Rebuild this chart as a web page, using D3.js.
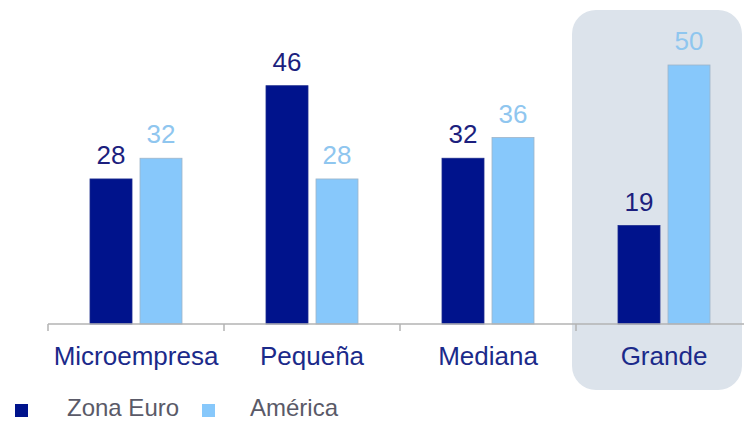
<!DOCTYPE html>
<html>
<head>
<meta charset="utf-8">
<script src="https://cdn.jsdelivr.net/npm/d3@7"></script>
<style>
  html, body { margin: 0; padding: 0; background: #fff; }
  svg { display: block; font-family: "Liberation Sans", Arial, sans-serif; }
</style>
</head>
<body>
<svg id="chart"></svg>
<script>
// Chart data
const categories = ["Microempresa", "Pequeña", "Mediana", "Grande"];
const seriesNames = ["Zona Euro", "América"];
const zonaEuro = [28, 46, 32, 19];
const america = [32, 28, 36, 50];
const highlighted = "Grande";

const width = 744;
const height = 422;
const colors = { "Zona Euro": "#00138c", "América": "#87c8fb" };
const labelColors = { "Zona Euro": "#1c1f7e", "América": "#8fc6ef" };

const svg = d3.select("#chart").attr("width", width).attr("height", height);

// Scales
const x0 = d3.scaleBand().domain(categories).range([48, 752]);
const x1 = d3
  .scaleBand()
  .domain(seriesNames)
  .range([0, x0.bandwidth()])
  .paddingInner(0.16)
  .paddingOuter(0.84);
const y = d3.scaleLinear().domain([0, 50]).range([324, 65]);

const rows = categories.map((c, i) => ({
  category: c,
  values: [
    { key: "Zona Euro", value: zonaEuro[i] },
    { key: "América", value: america[i] }
  ]
}));

// Highlight box behind the last group
svg
  .append("rect")
  .attr("x", x0(highlighted) - 4)
  .attr("y", 10)
  .attr("width", x0.bandwidth() - 6)
  .attr("height", 380)
  .attr("rx", 24)
  .attr("fill", "#dce3eb");

// Bars
const group = svg
  .append("g")
  .selectAll("g")
  .data(rows)
  .join("g")
  .attr("transform", (d) => `translate(${x0(d.category)},0)`);

group
  .selectAll("rect")
  .data((d) => d.values)
  .join("rect")
  .attr("x", (d) => x1(d.key))
  .attr("y", (d) => y(d.value))
  .attr("width", x1.bandwidth())
  .attr("height", (d) => y(0) - y(d.value))
  .attr("fill", (d) => colors[d.key])
  .attr("stroke", (d) => (d.key === "América" ? "#9fb4c8" : "#1a2a8c"))
  .attr("stroke-width", 0.8);

// Value labels
group
  .selectAll("text")
  .data((d) => d.values)
  .join("text")
  .attr("x", (d) => x1(d.key) + x1.bandwidth() / 2)
  .attr("y", (d) => y(d.value) - 15)
  .attr("text-anchor", "middle")
  .attr("font-size", 26)
  .attr("fill", (d) => labelColors[d.key])
  .text((d) => d.value);

// Axis line with ticks at group boundaries
svg
  .append("line")
  .attr("x1", 48)
  .attr("x2", width)
  .attr("y1", y(0))
  .attr("y2", y(0))
  .attr("stroke", "#b3b3b3")
  .attr("stroke-width", 1.5);

svg
  .append("g")
  .selectAll("line")
  .data(categories)
  .join("line")
  .attr("x1", (d) => x0(d))
  .attr("x2", (d) => x0(d))
  .attr("y1", y(0))
  .attr("y2", y(0) + 7)
  .attr("stroke", "#b3b3b3")
  .attr("stroke-width", 1.5);

// Category labels
const xAxis = svg
  .append("g")
  .attr("transform", `translate(0,${y(0)})`)
  .call(d3.axisBottom(x0).tickSize(0));
xAxis.select(".domain").remove();
xAxis
  .selectAll("text")
  .attr("y", 41)
  .attr("dy", 0)
  .attr("font-family", "Liberation Sans, Arial, sans-serif")
  .attr("font-size", 26)
  .attr("fill", "#1b2a8a");

// Legend
const legendX = [15, 202];
const legendTextX = [67, 250];
const legend = svg
  .append("g")
  .selectAll("g")
  .data(seriesNames)
  .join("g");

legend
  .append("rect")
  .attr("x", (d, i) => legendX[i])
  .attr("y", 404)
  .attr("width", 13)
  .attr("height", 13)
  .attr("fill", (d) => colors[d]);

legend
  .append("text")
  .attr("x", (d, i) => legendTextX[i])
  .attr("y", 416)
  .attr("font-size", 24)
  .attr("fill", "#5a5a68")
  .text((d) => d);
</script>
</body>
</html>
